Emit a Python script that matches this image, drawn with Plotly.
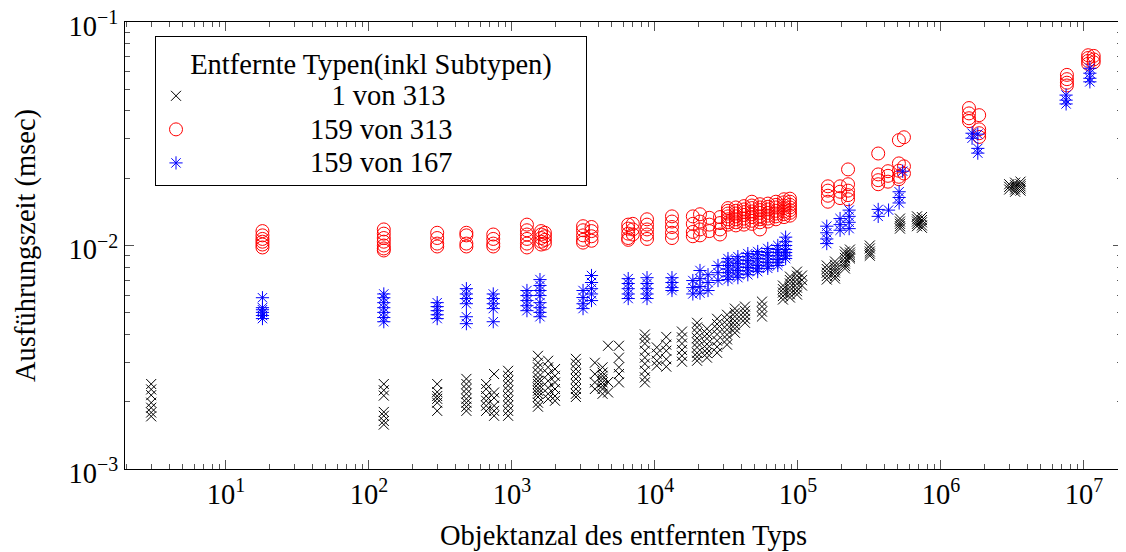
import plotly.graph_objects as go

# ---------------- data (object count -> execution times in msec) ----------------
black_counts = [3, 127, 300, 480, 660, 750, 940, 1520, 1790, 2000, 2800, 3800, 4300, 4700,
                5600, 8500, 10300, 12000, 15450, 19700, 23100, 27200, 31900, 36200, 42600,
                56000, 78500, 87900, 98400, 106700, 159000, 181500, 213000, 231000, 318000,
                517000, 680000, 736000, 3.0e6, 3.3e6, 3.6e6]
black_times = [
    [0.0024, 0.00227, 0.00214, 0.00198, 0.00188, 0.00179, 0.00172],
    [0.0024, 0.00225, 0.00213, 0.0018, 0.00173, 0.00164, 0.00158],
    [0.0024, 0.00221, 0.00212, 0.00206, 0.00198, 0.00182],
    [0.00253, 0.0024, 0.00228, 0.00217, 0.00206, 0.00198, 0.0019, 0.00182],
    [0.0024, 0.00228, 0.00212, 0.00202, 0.00192, 0.00182],
    [0.00266, 0.0022, 0.00208, 0.00192, 0.00182, 0.00173],
    [0.00275, 0.00261, 0.00248, 0.00236, 0.00224, 0.00212, 0.00202, 0.00192, 0.00182, 0.00173],
    [0.00321, 0.00299, 0.00285, 0.0027, 0.00257, 0.00248, 0.0024, 0.00231, 0.00224, 0.00217,
     0.0021, 0.00198, 0.0019],
    [0.00305, 0.00285, 0.00266, 0.00248, 0.00231, 0.00217, 0.00206],
    [0.0028, 0.00261, 0.00244, 0.00228, 0.00212, 0.00202],
    [0.00311, 0.00296, 0.0028, 0.00266, 0.00253, 0.0024, 0.00228, 0.00217, 0.0021],
    [0.00299, 0.00266, 0.00244, 0.00228],
    [0.00285, 0.0027, 0.00261, 0.00253, 0.00244, 0.00236, 0.00228, 0.00217],
    [0.00356, 0.00245, 0.0022],
    [0.00356, 0.00315, 0.00285, 0.00266, 0.00244],
    [0.004, 0.00383, 0.00364, 0.00338, 0.00315, 0.00296, 0.00275, 0.00257, 0.00244],
    [0.0035, 0.00328, 0.00305, 0.0029],
    [0.0039, 0.0036, 0.00338, 0.0031, 0.00287],
    [0.00412, 0.00388, 0.00364, 0.00341, 0.00321, 0.00302],
    [0.00451, 0.0043, 0.00407, 0.00385, 0.00368, 0.0035, 0.00331, 0.00318, 0.00305],
    [0.00424, 0.00402, 0.00383, 0.00362, 0.00345, 0.0033, 0.00315],
    [0.0047, 0.00445, 0.00424, 0.004, 0.00375, 0.00352, 0.00331],
    [0.0049, 0.00465, 0.00442, 0.0042, 0.00399, 0.0038, 0.0036],
    [0.00522, 0.005, 0.00481, 0.0046, 0.00442, 0.00425, 0.00407],
    [0.00533, 0.0051, 0.0049, 0.0047, 0.00451],
    [0.00561, 0.00533, 0.00506, 0.00481],
    [0.00662, 0.00638, 0.00616, 0.00594, 0.00573],
    [0.00726, 0.007, 0.00676, 0.0065, 0.00629, 0.00605, 0.00585],
    [0.00764, 0.00733, 0.00704, 0.00675, 0.00648, 0.00625, 0.00603],
    [0.00734, 0.007, 0.00662],
    [0.00814, 0.00785, 0.00756, 0.0073, 0.00704],
    [0.00848, 0.0082, 0.00797, 0.00775, 0.00756, 0.0073, 0.00711],
    [0.0094, 0.0091, 0.0088, 0.0085, 0.0083, 0.0081, 0.00789],
    [0.00959, 0.0093, 0.0091, 0.0089, 0.00875],
    [0.01, 0.0097, 0.0094, 0.0092, 0.009],
    [0.0132, 0.0128, 0.0125, 0.0122, 0.0119],
    [0.0135, 0.0131, 0.0128, 0.0125, 0.0122],
    [0.0134, 0.013, 0.0127, 0.0123, 0.012],
    [0.0188, 0.0183, 0.0178],
    [0.0191, 0.0186, 0.0182, 0.0178, 0.0174],
    [0.0193, 0.0188, 0.0184, 0.018, 0.0176],
]

red_counts = [18, 127, 300, 480, 740, 1273, 1600, 1700, 3141, 3600, 6500, 7000, 8800, 13150,
              18400, 20650, 24000, 28500, 32400, 36800, 41900, 47600, 54200, 61700, 70100,
              79800, 87900, 162000, 197000, 224000, 364000, 426000, 508000, 551000,
              1.57e6, 1.85e6, 7.6e6, 1.07e7, 1.17e7]
red_times = [
    [0.0116, 0.0111, 0.0107, 0.0104, 0.0101, 0.0098],
    [0.0118, 0.0113, 0.0108, 0.0104, 0.01, 0.0097, 0.0095],
    [0.0114, 0.0108, 0.0102, 0.0099],
    [0.0114, 0.0111, 0.0102, 0.0099],
    [0.0112, 0.0107, 0.0102, 0.0099],
    [0.0124, 0.0117, 0.0112, 0.0107, 0.0102, 0.0098],
    [0.0116, 0.0112, 0.0108, 0.0104, 0.0101],
    [0.0114, 0.011, 0.0106, 0.0102],
    [0.0122, 0.0117, 0.0111, 0.0106, 0.0103],
    [0.0121, 0.0116, 0.011, 0.0105],
    [0.0124, 0.0119, 0.0113, 0.0108, 0.0106],
    [0.0125, 0.0118, 0.0112],
    [0.0131, 0.0124, 0.0118, 0.0112, 0.0107],
    [0.0135, 0.0128, 0.0121, 0.0114, 0.0108],
    [0.0135, 0.0125, 0.0115, 0.011],
    [0.0138, 0.0128, 0.0118, 0.0111],
    [0.0133, 0.0124, 0.0116],
    [0.0134, 0.0126, 0.0118, 0.0112],
    [0.0147, 0.0143, 0.0139, 0.0135, 0.0131, 0.0127, 0.0124],
    [0.0148, 0.0143, 0.0139, 0.0135, 0.0131, 0.0127, 0.0123],
    [0.015, 0.0145, 0.0141, 0.0137, 0.0132, 0.0128, 0.0124],
    [0.0157, 0.0151, 0.0147, 0.0142, 0.0138, 0.0134, 0.0129, 0.0125],
    [0.0153, 0.0148, 0.0144, 0.014, 0.0135, 0.0131, 0.0127, 0.0118],
    [0.0154, 0.0149, 0.0145, 0.014, 0.0136, 0.0132, 0.0128],
    [0.0157, 0.0152, 0.0148, 0.0143, 0.0139, 0.0135, 0.0131],
    [0.0161, 0.0156, 0.0151, 0.0147, 0.0142, 0.0138, 0.0134],
    [0.0162, 0.0157, 0.0152, 0.0148, 0.0144, 0.014, 0.0136],
    [0.0184, 0.0176, 0.0167, 0.0157],
    [0.0184, 0.0174, 0.0163],
    [0.0219, 0.0188, 0.0176, 0.0168, 0.0161],
    [0.0258, 0.0208, 0.0196, 0.0188],
    [0.0215, 0.0205, 0.0193],
    [0.0296, 0.0233, 0.0216, 0.0203, 0.0198],
    [0.0305, 0.0226, 0.021],
    [0.0412, 0.039, 0.0371, 0.036],
    [0.0383, 0.0331, 0.0318, 0.0306],
    [0.058, 0.0555, 0.0535, 0.052],
    [0.071, 0.069, 0.067, 0.065],
    [0.0705, 0.068, 0.066],
]

blue_counts = [18, 127, 300, 480, 740, 1273, 1570, 3141, 3600, 6500, 8800, 13150, 18400, 20650,
               23500, 27600, 32400, 38000, 44600, 52300, 61500, 72300, 82000, 159000, 197000,
               228000, 364000, 430000, 510000, 540000, 1.65e6, 1.81e6, 7.5e6, 1.1e7]
blue_times = [
    [0.00584, 0.00527, 0.00516, 0.00502, 0.00486, 0.00471],
    [0.00607, 0.00584, 0.00555, 0.00527, 0.00502, 0.00476, 0.00456],
    [0.00555, 0.00533, 0.00511, 0.0049, 0.00471],
    [0.00641, 0.00607, 0.00579, 0.00549, 0.0048, 0.00447],
    [0.00607, 0.00579, 0.00549, 0.00522, 0.00456],
    [0.00629, 0.00597, 0.00567, 0.00538, 0.00511],
    [0.00704, 0.00662, 0.00629, 0.00597, 0.00555, 0.00527, 0.00502, 0.0048],
    [0.00629, 0.00585, 0.00549, 0.00522],
    [0.00734, 0.00683, 0.00641, 0.00607, 0.00567],
    [0.00711, 0.00676, 0.00641, 0.00607, 0.00579],
    [0.00718, 0.00676, 0.00641, 0.00607, 0.00579],
    [0.00718, 0.00683, 0.00648, 0.00629],
    [0.00697, 0.00648, 0.00607],
    [0.00773, 0.00711, 0.00655, 0.00612],
    [0.0074, 0.00683, 0.00629],
    [0.00814, 0.00756, 0.00697],
    [0.00874, 0.00843, 0.00814, 0.00785, 0.00756, 0.0073, 0.00704],
    [0.00892, 0.0086, 0.0083, 0.008, 0.00773, 0.00745, 0.00718],
    [0.0092, 0.0089, 0.00857, 0.00827, 0.00797, 0.0077, 0.0074],
    [0.0094, 0.0091, 0.00874, 0.00844, 0.00814, 0.0079, 0.00764],
    [0.0097, 0.0093, 0.009, 0.0087, 0.0084, 0.0081, 0.0079],
    [0.01, 0.0096, 0.0093, 0.009, 0.00866, 0.0084, 0.00814],
    [0.0109, 0.0104, 0.01, 0.0096, 0.0093, 0.009, 0.00874],
    [0.0122, 0.0114, 0.0107, 0.0102],
    [0.0132, 0.0124, 0.0117],
    [0.0144, 0.0135, 0.0127, 0.0119],
    [0.0145, 0.0135],
    [0.0144],
    [0.0174, 0.0164, 0.0155],
    [0.0215],
    [0.0318, 0.0302],
    [0.0315, 0.0272, 0.0259],
    [0.0471, 0.0447, 0.043],
    [0.0621, 0.059, 0.056, 0.054],
]

series_names = ["1 von 313", "159 von 313", "159 von 167"]
legend_title = "Entfernte Typen(inkl Subtypen)"
x_title = "Objektanzal des entfernten Typs"
y_title = "Ausführungszeit (msec)"
x_exponents = [1, 2, 3, 4, 5, 6, 7]
y_exponents = [-3, -2, -1]


def flatten(counts, times):
    xs, ys = [], []
    for c, ts in zip(counts, times):
        for t in ts:
            xs.append(c)
            ys.append(t)
    return xs, ys


FONT = "Liberation Serif"
FS = 28.5
NB = "\u00a0"


def legend_label(text, pad):
    return (f'<span style="font-size:{FS}px">' + NB * pad + text + NB * pad
            + "</span>")


bx, by = flatten(black_counts, black_times)
rx, ry = flatten(red_counts, red_times)
ux, uy = flatten(blue_counts, blue_times)

fig = go.Figure()
fig.add_trace(go.Scatter(x=bx, y=by, mode="markers",
                         name=legend_label(series_names[0], 19),
                         marker=dict(symbol="x-thin-open", size=10, color="black",
                                     line=dict(color="black", width=1))))
fig.add_trace(go.Scatter(x=rx, y=ry, mode="markers",
                         name=legend_label(series_names[1], 16),
                         marker=dict(symbol="circle-open", size=13, color="#ff0000",
                                     line=dict(color="#ff0000", width=1))))
fig.add_trace(go.Scatter(x=ux, y=uy, mode="markers",
                         name=legend_label(series_names[2], 16),
                         marker=dict(symbol="asterisk-open", size=11, color="#0000ff",
                                     line=dict(color="#0000ff", width=1))))

minor_x = [m * 10 ** e for e in range(0, 8) for m in range(2, 10)]
minor_y = [m * 10 ** e for e in range(-3, -1) for m in range(2, 10)]

axis_common = dict(type="log", showgrid=False, zeroline=False, showline=True,
                   linecolor="black", linewidth=1, mirror="allticks", ticks="inside",
                   ticklen=9, tickcolor="#555", tickwidth=1, automargin=False,
                   ticklabeloverflow="allow",
                   tickfont=dict(family=FONT, size=FS, color="black"))

fig.update_xaxes(**axis_common, range=[0.294, 7.266],
                 tickvals=[10 ** k for k in x_exponents],
                 ticktext=[f"10<sup>{k}</sup>" for k in x_exponents],
                 minor=dict(ticks="inside", ticklen=5, tickcolor="#555", tickvals=minor_x,
                            showgrid=False),
                 title=dict(text=x_title, font=dict(family=FONT, size=FS, color="black"),
                            standoff=15))
fig.update_yaxes(**axis_common, range=[-3, -1],
                 tickvals=[10.0 ** k for k in y_exponents],
                 ticktext=[f"10<sup>\u2212{-k}</sup>" for k in y_exponents],
                 ticklabelshift=4,
                 minor=dict(ticks="inside", ticklen=5, tickcolor="#555", tickvals=minor_y,
                            showgrid=False),
                 title=dict(text=y_title, font=dict(family=FONT, size=FS, color="black"),
                            standoff=24))

fig.update_layout(
    width=1118, height=544,
    margin=dict(l=117, r=4, t=14, b=83),
    paper_bgcolor="white", plot_bgcolor="white",
    font=dict(family=FONT, size=FS, color="black"),
    legend=dict(x=0.0301, y=0.9687, xanchor="left", yanchor="top",
                bgcolor="white", bordercolor="black", borderwidth=1,
                font=dict(family=FONT, size=23.5, color="black"),
                title=dict(text=legend_title, side="top center",
                           font=dict(family=FONT, size=FS, color="black"))),
)

fig.write_html("out.html")
